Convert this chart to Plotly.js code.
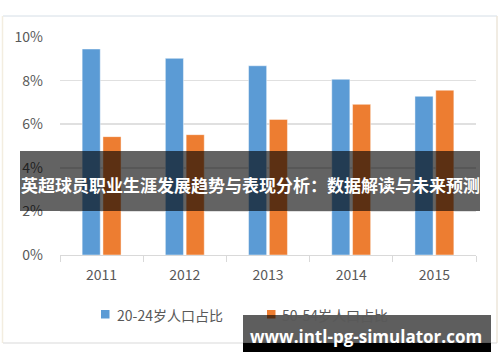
<!DOCTYPE html>
<html>
<head>
<meta charset="utf-8">
<script src="https://cdn.plot.ly/plotly-3.0.1.min.js"></script>
<style>
html,body{margin:0;padding:0;background:#fff;}
#chart{width:500px;height:362px;}
</style>
</head>
<body>
<div id="chart"></div>
<script>
const categories = ["2011", "2012", "2013", "2014", "2015"];
const seriesNames = ["20-24岁人口占比", "50-54岁人口占比"];
const seriesColors = ["#5B9BD5", "#ED7D31"];
const young = [9.45, 9.02, 8.68, 8.06, 7.28];
const older = [5.43, 5.52, 6.22, 6.91, 7.56];
const yTickVals = [0, 2, 4, 6, 8, 10];
const yTickText = ["0%", "2%", "4%", "6%", "8%", "10%"];
const bannerText = "英超球员职业生涯发展趋势与表现分析：数据解读与未来预测";
const watermarkText = "www.intl-pg-simulator.com";

// plot area in pixels
const L = 60, R = 476, T = 37, B = 255;
const px = x => (x - L) / (R - L);
const py = y => (B - y) / (B - T);

const font = "'Noto Sans CJK SC', 'Noto Sans', sans-serif";

const traces = [
  {type: 'bar', name: seriesNames[0], x: categories, y: young,
   marker: {color: seriesColors[0], line: {color: 'rgba(255,255,255,0.45)', width: 1}}},
  {type: 'bar', name: seriesNames[1], x: categories, y: older,
   marker: {color: seriesColors[1], line: {color: 'rgba(255,255,255,0.45)', width: 1}}}
];

// custom legend (square + text), positioned in pixels
const legendSquares = [[101, 310], [267, 310]];
const legendTextX = [115, 280];
const legendShapes = legendSquares.map((p, i) => ({
  type: 'rect', xref: 'paper', yref: 'paper', x0: px(p[0]), x1: px(p[0] + 8.5),
  y0: py(p[1] + 8.5), y1: py(p[1]), fillcolor: seriesColors[i], line: {width: 0}, layer: 'below'
}));
const legendAnn = seriesNames.map((n, i) => ({
  xref: 'paper', yref: 'paper', x: px(legendTextX[i]), y: py(314.5), xanchor: 'left', yanchor: 'middle',
  text: n, showarrow: false, font: {family: font, size: 14, color: '#595959'}
}));

const layout = {
  width: 500, height: 362,
  margin: {l: L, r: 500 - R, t: T, b: 362 - B, pad: 0},
  paper_bgcolor: '#ffffff', plot_bgcolor: '#ffffff',
  font: {family: font, size: 14, color: '#595959'},
  barmode: 'group', bargap: 0.5, bargroupgap: 0.13,
  showlegend: false,
  xaxis: {type: 'category', showgrid: false, showline: true, linecolor: '#d9d9d9', linewidth: 1,
          ticks: 'outside', ticklen: 6, tickcolor: '#d9d9d9', tickson: 'boundaries',
          ticklabelstandoff: 7,
          tickfont: {size: 14, color: '#595959'}, fixedrange: true},
  yaxis: {range: [0, 10], tickvals: yTickVals, ticktext: yTickText, showgrid: true,
          gridcolor: '#e0e0e0', gridwidth: 1.5, zeroline: false, showline: false,
          ticks: '', ticklabelstandoff: 16, tickfont: {size: 14, color: '#595959'}, fixedrange: true},
  shapes: [
    // frame of the picture
    {type: 'line', xref: 'paper', yref: 'paper', x0: px(3), x1: px(497), y0: py(16), y1: py(16),
     line: {color: '#d5dee6', width: 1}, layer: 'below'},
    {type: 'line', xref: 'paper', yref: 'paper', x0: px(2.5), x1: px(2.5), y0: py(16), y1: py(343),
     line: {color: '#f3ede0', width: 1.5}, layer: 'below'},
    {type: 'line', xref: 'paper', yref: 'paper', x0: px(497), x1: px(497), y0: py(16), y1: py(343),
     line: {color: '#ece6da', width: 1.5}, layer: 'below'},
    {type: 'line', xref: 'paper', yref: 'paper', x0: px(3), x1: px(497), y0: py(343), y1: py(343),
     line: {color: '#d9d9d9', width: 1}, layer: 'below'},
    ...legendShapes,
    // banner
    {type: 'rect', xref: 'paper', yref: 'paper', x0: px(20), x1: px(480), y0: py(211), y1: py(151),
     fillcolor: 'rgba(0,0,0,0.61)', line: {width: 0}, layer: 'above'},
    // watermark box
    {type: 'rect', xref: 'paper', yref: 'paper', x0: px(243), x1: px(491), y0: py(343), y1: py(315),
     fillcolor: 'rgba(0,0,0,0.63)', line: {width: 0}, layer: 'above'},
    {type: 'rect', xref: 'paper', yref: 'paper', x0: px(243), x1: px(491), y0: py(352), y1: py(343),
     fillcolor: '#000000', line: {width: 0}, layer: 'above'}
  ],
  annotations: [
    ...legendAnn,
    {xref: 'paper', yref: 'paper', x: px(250), y: py(185), xanchor: 'center', yanchor: 'middle',
     text: '<b>' + bannerText + '</b>', showarrow: false,
     font: {family: font, size: 17, color: '#ffffff'}},
    {xref: 'paper', yref: 'paper', x: px(366), y: py(336), xanchor: 'center', yanchor: 'middle',
     text: '<b>' + watermarkText + '</b>', showarrow: false,
     font: {family: "'Open Sans', 'Noto Sans', sans-serif", size: 17, color: '#ffffff'}}
  ]
};

Plotly.newPlot('chart', traces, layout, {displayModeBar: false, staticPlot: true});
</script>
</body>
</html>
